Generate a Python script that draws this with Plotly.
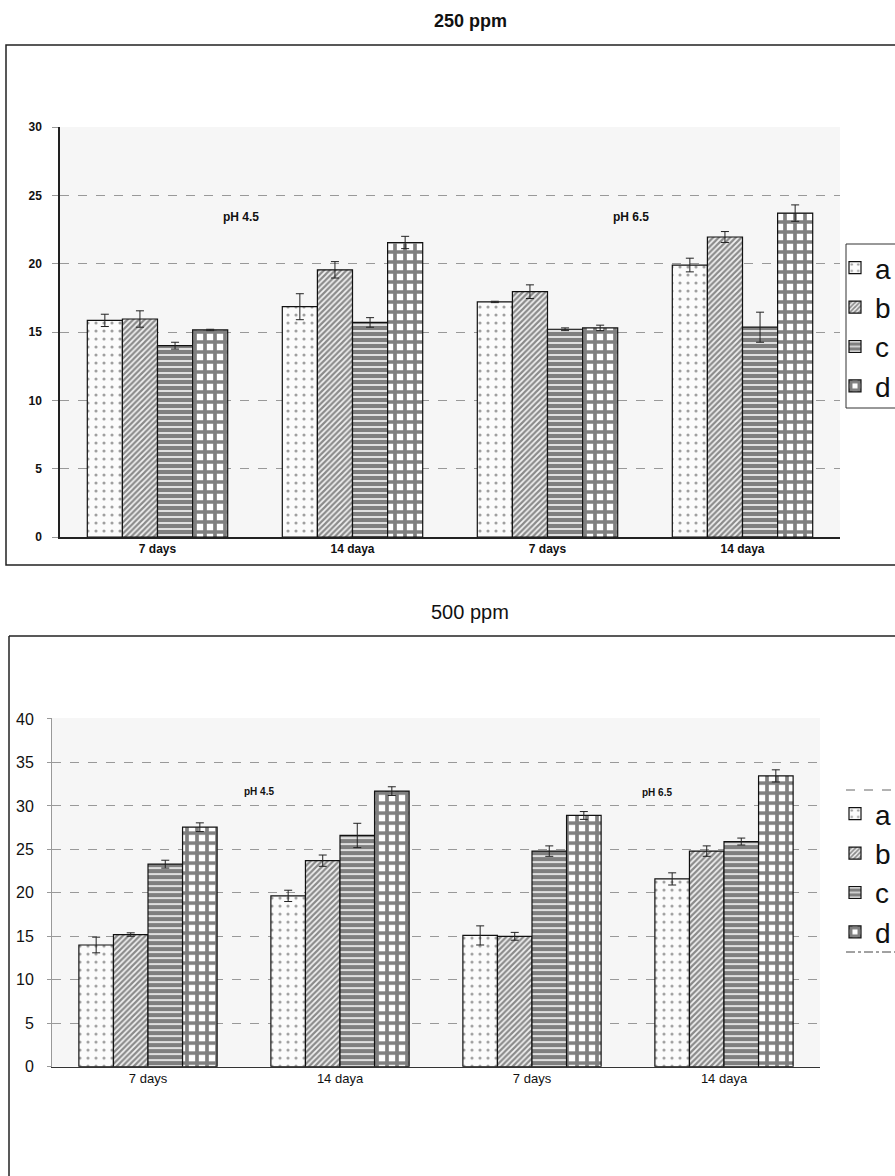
import plotly.graph_objects as go

W, H = 895, 1176

x_pos = [0, 1, 2, 3]
x_labels = ["7 days", "14 daya", "7 days", "14 daya"]
series_names = ["a", "b", "c", "d"]

# 250 ppm
top_a = [15.85, 16.85, 17.2, 19.9]
top_a_err = [0.45, 0.95, 0.05, 0.5]
top_b = [15.95, 19.55, 17.95, 21.95]
top_b_err = [0.6, 0.6, 0.5, 0.4]
top_c = [14.0, 15.7, 15.2, 15.35]
top_c_err = [0.25, 0.35, 0.1, 1.1]
top_d = [15.15, 21.55, 15.3, 23.7]
top_d_err = [0.05, 0.45, 0.2, 0.6]

# 500 ppm
bot_a = [14.0, 19.65, 15.1, 21.6]
bot_a_err = [0.9, 0.65, 1.1, 0.7]
bot_b = [15.2, 23.7, 15.0, 24.8]
bot_b_err = [0.2, 0.65, 0.45, 0.6]
bot_c = [23.3, 26.6, 24.8, 25.9]
bot_c_err = [0.45, 1.4, 0.6, 0.4]
bot_d = [27.55, 31.7, 28.9, 33.45]
bot_d_err = [0.5, 0.5, 0.45, 0.7]

FONT = "Liberation Sans, Arial, sans-serif"

patterns = {
    "a": dict(shape=".", size=8, solidity=0.12, fgcolor="#444", bgcolor="#fbfbfb"),
    "b": dict(shape="/", size=4, solidity=0.55, fgcolor="#222", bgcolor="#f2f2f2"),
    "c": dict(shape="-", size=6, solidity=0.75, fgcolor="#000", bgcolor="#ffffff"),
    "d": dict(shape="+", size=10, solidity=0.6, fgcolor="#000", bgcolor="#ffffff"),
}

fig = go.Figure()

top_vals = [(top_a, top_a_err), (top_b, top_b_err), (top_c, top_c_err), (top_d, top_d_err)]
bot_vals = [(bot_a, bot_a_err), (bot_b, bot_b_err), (bot_c, bot_c_err), (bot_d, bot_d_err)]

for name, (vals, errs) in zip(series_names, top_vals):
    fig.add_trace(go.Bar(
        x=x_pos, y=vals, name=name, xaxis="x", yaxis="y", legend="legend",
        marker=dict(pattern=patterns[name], line=dict(color="#111", width=1.2)),
        error_y=dict(type="data", array=errs, visible=True, color="#222", thickness=1, width=4),
    ))

for name, (vals, errs) in zip(series_names, bot_vals):
    fig.add_trace(go.Bar(
        x=x_pos, y=vals, name=name, xaxis="x2", yaxis="y2", legend="legend2",
        marker=dict(pattern=patterns[name], line=dict(color="#111", width=1.2)),
        error_y=dict(type="data", array=errs, visible=True, color="#222", thickness=1, width=4),
    ))

def py(p):
    return 1 - p / H

def px(p):
    return p / W

shapes = [
    # top frame
    dict(type="rect", xref="paper", yref="paper", x0=px(6), x1=px(900), y0=py(565), y1=py(45),
         line=dict(color="#222", width=1.5)),
    # top legend box
    dict(type="rect", xref="paper", yref="paper", x0=px(846), x1=px(900), y0=py(408), y1=py(244),
         line=dict(color="#333", width=1), fillcolor="white", layer="below"),
    # bottom frame (left + top)
    dict(type="line", xref="paper", yref="paper", x0=px(9), x1=px(900), y0=py(636), y1=py(636),
         line=dict(color="#222", width=1.5)),
    dict(type="line", xref="paper", yref="paper", x0=px(9), x1=px(9), y0=py(636), y1=py(1180),
         line=dict(color="#222", width=1.5)),
    # bottom legend dashed lines
    dict(type="line", xref="paper", yref="paper", x0=px(846), x1=px(900), y0=py(790), y1=py(790),
         line=dict(color="#666", width=1, dash="dash")),
    dict(type="line", xref="paper", yref="paper", x0=px(846), x1=px(900), y0=py(952), y1=py(952),
         line=dict(color="#444", width=1, dash="dashdot")),
]

annotations = [
    dict(text="<b>250 ppm</b>", xref="paper", yref="paper", x=px(470), y=py(21),
         yanchor="middle", showarrow=False, font=dict(size=18, color="#111", family=FONT)),
    dict(text="500 ppm", xref="paper", yref="paper", x=px(470), y=py(612),
         yanchor="middle", showarrow=False, font=dict(size=20, color="#111", family=FONT)),
    dict(text="<b>pH 4.5</b>", xref="x", yref="y", x=0.43, y=23.4, showarrow=False,
         font=dict(size=12, color="#111", family=FONT)),
    dict(text="<b>pH 6.5</b>", xref="x", yref="y", x=2.43, y=23.4, showarrow=False,
         font=dict(size=12, color="#111", family=FONT)),
    dict(text="<b>pH 4.5</b>", xref="x2", yref="y2", x=0.58, y=31.6, showarrow=False,
         font=dict(size=10, color="#111", family=FONT)),
    dict(text="<b>pH 6.5</b>", xref="x2", yref="y2", x=2.65, y=31.5, showarrow=False,
         font=dict(size=10, color="#111", family=FONT)),
]

fig.update_layout(
    width=W, height=H,
    margin=dict(l=0, r=0, t=0, b=0, autoexpand=False),
    paper_bgcolor="white",
    plot_bgcolor="#f6f6f6",
    font=dict(family=FONT, color="#111"),
    barmode="group", bargap=0.28, bargroupgap=0,
    shapes=shapes, annotations=annotations,
    xaxis=dict(domain=[px(60), px(840)], anchor="y", range=[-0.5, 3.5],
               tickvals=x_pos, ticktext=["<b>%s</b>" % t for t in x_labels],
               tickfont=dict(size=12, family=FONT), showgrid=False, zeroline=False,
               showline=True, linecolor="#222", linewidth=1.5, ticks=""),
    yaxis=dict(domain=[py(537), py(127)], anchor="x", range=[0, 30], dtick=5,
               tickfont=dict(size=12, family=FONT), tickprefix="<b>", ticksuffix="</b>",
               showgrid=True, gridcolor="#999", griddash="dash", gridwidth=1,
               zeroline=False, showline=True, linecolor="#222", linewidth=1.5,
               ticks="outside", ticklen=6, tickcolor="#999", ticklabelstandoff=8),
    xaxis2=dict(domain=[px(52), px(820)], anchor="y2", range=[-0.5, 3.5],
                tickvals=x_pos, ticktext=x_labels,
                tickfont=dict(size=13, family=FONT), showgrid=False, zeroline=False,
                showline=True, linecolor="#333", linewidth=1.2, ticks=""),
    yaxis2=dict(domain=[py(1066.7), py(718.1)], anchor="x2", range=[0, 40.1],
                tickvals=[0, 5, 10, 15, 20, 25, 30, 35, 40],
                tickfont=dict(size=16, family=FONT),
                showgrid=True, gridcolor="#999", griddash="dash", gridwidth=1,
                zeroline=False, showline=True, linecolor="#999", linewidth=1,
                ticks="outside", ticklen=4, tickcolor="#999", ticklabelstandoff=10),
    legend=dict(x=px(835), y=py(243), xanchor="left", yanchor="top",
                borderwidth=0, bgcolor="rgba(0,0,0,0)",
                font=dict(size=28, family=FONT), itemwidth=30, tracegroupgap=0),
    legend2=dict(x=px(835), y=py(789), xanchor="left", yanchor="top",
                 borderwidth=0, bgcolor="rgba(0,0,0,0)",
                 font=dict(size=28, family=FONT), itemwidth=30, tracegroupgap=0),
)

fig.write_html("out.html", config={"displayModeBar": False},
               post_script="document.body.style.margin='0';")
